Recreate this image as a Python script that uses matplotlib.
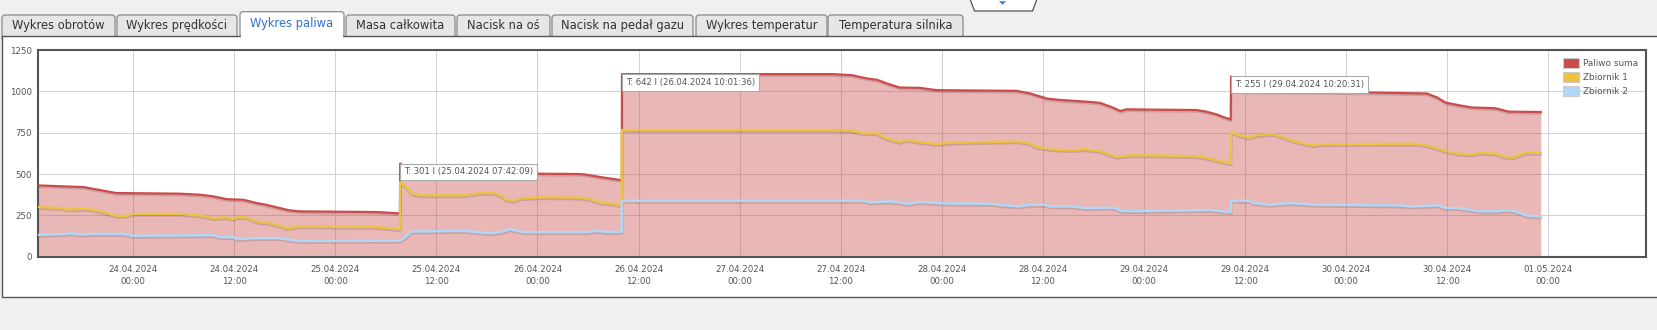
import numpy as np
import pandas as pd
import matplotlib
matplotlib.use('Agg')
import matplotlib.pyplot as plt
import matplotlib.dates as mdates
import matplotlib.patheffects as pe
from matplotlib.patches import Rectangle, Polygon, FancyBboxPatch, Patch

W, H = 1658, 330

# Data, time in hours since 24.04.2024 00:00
start = pd.Timestamp('2024-04-24 00:00')

suma_h = [-11.3, -5.9, -2.0, 5.5, 7.9, 9.5, 11.1, 13.1, 14.7, 15.8, 17.4, 18.6,
          19.8, 28.9, 31.67, 31.70, 32.3, 33.1, 39.0, 43.0, 47.7, 53.0, 53.8,
          55.4, 57.0, 58.0, 58.03, 83.1, 85.3, 87.1, 88.3, 89.5, 91.0, 93.4,
          95.4, 104.9, 106.5, 108.5, 110.0, 113.6, 114.8, 116.3, 117.2, 117.9,
          126.2, 127.4, 128.6, 129.4, 130.3, 130.34, 131.2, 146.4, 153.6,
          154.8, 155.8, 157.4, 159.0, 161.7, 163.3, 167.1]
suma_v = [431, 421, 385, 381, 375, 365, 348, 344, 324, 314, 294, 280,
          274, 270, 262, 563, 540, 525, 515, 510, 502, 500, 496,
          482, 470, 462, 1104, 1104, 1098, 1078, 1070, 1047, 1023, 1021,
          1007, 1003, 987, 956, 948, 936, 930, 902, 881, 891,
          887, 877, 861, 845, 830, 1090, 1000, 993, 987,
          963, 932, 916, 902, 898, 877, 875]

zb1_h = [-11.3, -8.3, -7.9, -5.9, -4.75, -3.2, -2.0, -0.8, 0.0, 5.5, 7.9, 9.5,
         11.1, 11.9, 12.3, 13.3, 14.3, 15.1, 15.8, 17.0, 18.2, 19.0, 19.8,
         28.9, 31.67, 31.70, 32.3, 33.1, 34.1, 39.2, 41.2, 42.8, 43.6, 44.3,
         45.1, 45.9, 48.3, 53.0, 54.2, 55.4, 57.0, 58.0, 58.03, 83.1, 85.1,
         86.7, 88.3, 89.5, 91.0, 91.8, 93.4, 95.4, 97.0, 104.9, 106.1, 107.3,
         109.3, 111.6, 112.8, 114.8, 116.7, 118.7, 126.2, 127.4, 129.0, 130.3,
         130.34, 131.3, 132.5, 133.3, 135.3, 136.3, 137.7, 140.0, 140.8,
         150.3, 152.2, 153.6, 155.8, 157.4, 159.0, 159.8, 161.7, 162.5,
         163.7, 165.3, 167.1]
zb1_v = [300, 294, 284, 290, 284, 264, 247, 247, 259, 259, 249, 233,
         237, 229, 239, 239, 219, 207, 207, 193, 173, 177, 183,
         179, 166, 450, 426, 381, 371, 371, 385, 385, 369, 345,
         337, 353, 359, 357, 349, 328, 320, 310, 766, 766, 764,
         746, 746, 713, 693, 705, 693, 681, 689, 697, 689, 663,
         648, 644, 650, 638, 604, 614, 608, 598, 578, 564,
         754, 734, 720, 734, 742, 726, 700, 673, 679,
         683, 683, 673, 639, 622, 618, 628, 624, 608,
         598, 628, 628]

zb2_h = [-11.3, -7.9, -7.5, -6.3, -4.75, -1.2, 0.0, 9.5, 10.3, 11.9, 12.3,
         14.3, 17.4, 19.0, 19.8, 31.67, 32.1, 33.1, 39.2, 42.4, 43.6, 44.7,
         45.5, 46.3, 53.8, 55.0, 56.2, 58.0, 58.03, 86.8, 87.4, 89.7, 90.9,
         91.9, 92.9, 93.7, 96.1, 101.6, 103.6, 105.2, 106.4, 108.2, 108.8,
         111.5, 113.1, 115.9, 116.7, 117.2, 118.7, 127.8, 130.3, 130.34,
         132.5, 133.0, 134.9, 137.3, 140.4, 150.3, 151.8, 154.8, 155.8,
         157.4, 159.8, 161.7, 162.9, 164.1, 165.3, 167.1]
zb2_v = [132, 138, 142, 134, 138, 138, 126, 130, 118, 118, 106,
         112, 112, 99, 95, 97, 111, 152, 156, 142, 148, 166,
         158, 148, 148, 156, 150, 150, 338, 338, 328, 334, 328,
         318, 328, 330, 322, 320, 310, 304, 314, 314, 304,
         304, 294, 296, 292, 277, 275, 282, 269, 338,
         338, 324, 314, 324, 314, 310, 304, 310, 294,
         294, 274, 274, 280, 274, 250, 243]

# refuelling tooltips
refuel_h = [31.70, 58.03, 130.34]
refuel_peak = [563, 1104, 1090]
refuel_litres = [301, 642, 255]
refuel_time = ['25.04.2024 07:42:09', '26.04.2024 10:01:36', '29.04.2024 10:20:31']

series = ['Paliwo suma', 'Zbiornik 1', 'Zbiornik 2']
colors = ['#cb4b4b', '#edc240', '#afd8f8']

tabs = ['Wykres obrotów', 'Wykres prędkości', 'Wykres paliwa', 'Masa całkowita',
        'Nacisk na oś', 'Nacisk na pedał gazu', 'Wykres temperatur', 'Temperatura silnika']
tab_edges = [(2, 115), (117, 237), (240, 344), (346, 455), (457, 550),
             (552, 693), (696, 827), (828, 963)]
active = 2


def to_num(hours):
    return mdates.date2num((start + pd.to_timedelta(np.array(hours), unit='h')).to_pydatetime())


fig = plt.figure(figsize=(W / 100, H / 100), dpi=100, facecolor='#f0f0f0')

# page background: tabs and white panel
bg = fig.add_axes([0, 0, 1, 1], zorder=0)
bg.set_xlim(0, W)
bg.set_ylim(H, 0)
bg.axis('off')

for i, (name, (x1, x2)) in enumerate(zip(tabs, tab_edges)):
    if i == active:
        continue
    bg.add_patch(FancyBboxPatch((x1, 15), x2 - x1, 26, boxstyle='round,pad=0,rounding_size=3',
                                facecolor='#e6e6e6', edgecolor='#8a8a8a', lw=0.9, zorder=1))
    bg.text((x1 + x2) / 2, 25.5, name, ha='center', va='center', fontsize=8.3, color='#333333', zorder=4)

bg.add_patch(Rectangle((2, 36), W + 10, 261, facecolor='white', edgecolor='#555555', lw=1, zorder=2))

x1, x2 = tab_edges[active]
bg.add_patch(FancyBboxPatch((x1, 11.7), x2 - x1, 25.3, boxstyle='round,pad=0,rounding_size=3',
                            facecolor='white', edgecolor='#8a8a8a', lw=0.9, zorder=3))
bg.add_patch(Rectangle((x1 + 1, 35), x2 - x1 - 2, 4, facecolor='white', lw=0, zorder=3.5))
bg.text((x1 + x2) / 2, 23, tabs[active], ha='center', va='center', fontsize=8.3, color='#2f6fd0', zorder=4)

# small drop-down handle at top
bg.add_patch(Polygon([(970, -1), (1037, -1), (1032.5, 11), (974.5, 11)], closed=True,
                     facecolor='white', edgecolor='#555555', lw=0.9, zorder=3))
bg.add_patch(Polygon([(999, 1.2), (1006, 1.2), (1002.5, 4.8)], closed=True,
                     facecolor='#3a7bd5', lw=0, zorder=4))

# chart
L, R, T, B = 38, 1646, 50, 256.7
ax = fig.add_axes([L / W, 1 - B / H, (R - L) / W, (B - T) / H], zorder=2)
ax.set_facecolor('white')

t_suma = to_num(suma_h)
t_zb1 = to_num(zb1_h)
t_zb2 = to_num(zb2_h)

shadow = [pe.SimpleLineShadow(offset=(0.3, -1.2), shadow_color='black', alpha=0.13), pe.Normal()]

ax.fill_between(t_suma, suma_v, 0, color=colors[0], alpha=0.4, lw=0, zorder=2)
ax.plot(t_suma, suma_v, color=colors[0], lw=1.6, zorder=3, path_effects=shadow)
ax.plot(t_zb1, zb1_v, color=colors[1], lw=1.7, zorder=4, path_effects=shadow)
ax.plot(t_zb2, zb2_v, color=colors[2], lw=1.8, zorder=5, path_effects=shadow)

for h, peak, litres, when in zip(refuel_h, refuel_peak, refuel_litres, refuel_time):
    ax.annotate(f'T: {litres} l ({when})', xy=(to_num([h])[0], peak), xytext=(2.7, -2.7),
                textcoords='offset points', ha='left', va='top', fontsize=6.1, color='#545454',
                bbox=dict(boxstyle='square,pad=0.45', fc='white', ec='#aaaaaa', lw=0.8), zorder=10)

ax.set_ylim(0, 1250)
ax.set_yticks(range(0, 1251, 250))
ax.set_xlim(to_num([-11.3])[0], to_num([179.6])[0])
ticks = pd.date_range('2024-04-24 00:00', '2024-05-01 00:00', freq='12h')
ax.set_xticks(mdates.date2num(ticks.to_pydatetime()))
ax.set_xticklabels([t.strftime('%d.%m.%Y\n%H:%M') for t in ticks], linespacing=1.45)

ax.grid(True, color='#d2d2d2', lw=0.75)
ax.set_axisbelow(True)
ax.tick_params(axis='both', length=0, labelsize=6.2, labelcolor='#545454')
ax.tick_params(axis='x', pad=6.2)
ax.tick_params(axis='y', pad=4.3)
for s in ax.spines.values():
    s.set_color('#545454')
    s.set_linewidth(1.5)

handles = [Patch(facecolor=c, edgecolor='#cccccc', lw=0.8, label=l) for c, l in zip(colors, series)]
leg = ax.legend(handles=handles, loc='upper left', bbox_to_anchor=(1563 / W, 1 - 58 / H),
                bbox_transform=fig.transFigure, frameon=False, fontsize=6.4, handlelength=1.85,
                handleheight=1.35, handletextpad=0.35, labelspacing=0.45, borderpad=0,
                borderaxespad=0)
for txt in leg.get_texts():
    txt.set_color('#545454')

fig.savefig('out.png', dpi=100, facecolor=fig.get_facecolor())
